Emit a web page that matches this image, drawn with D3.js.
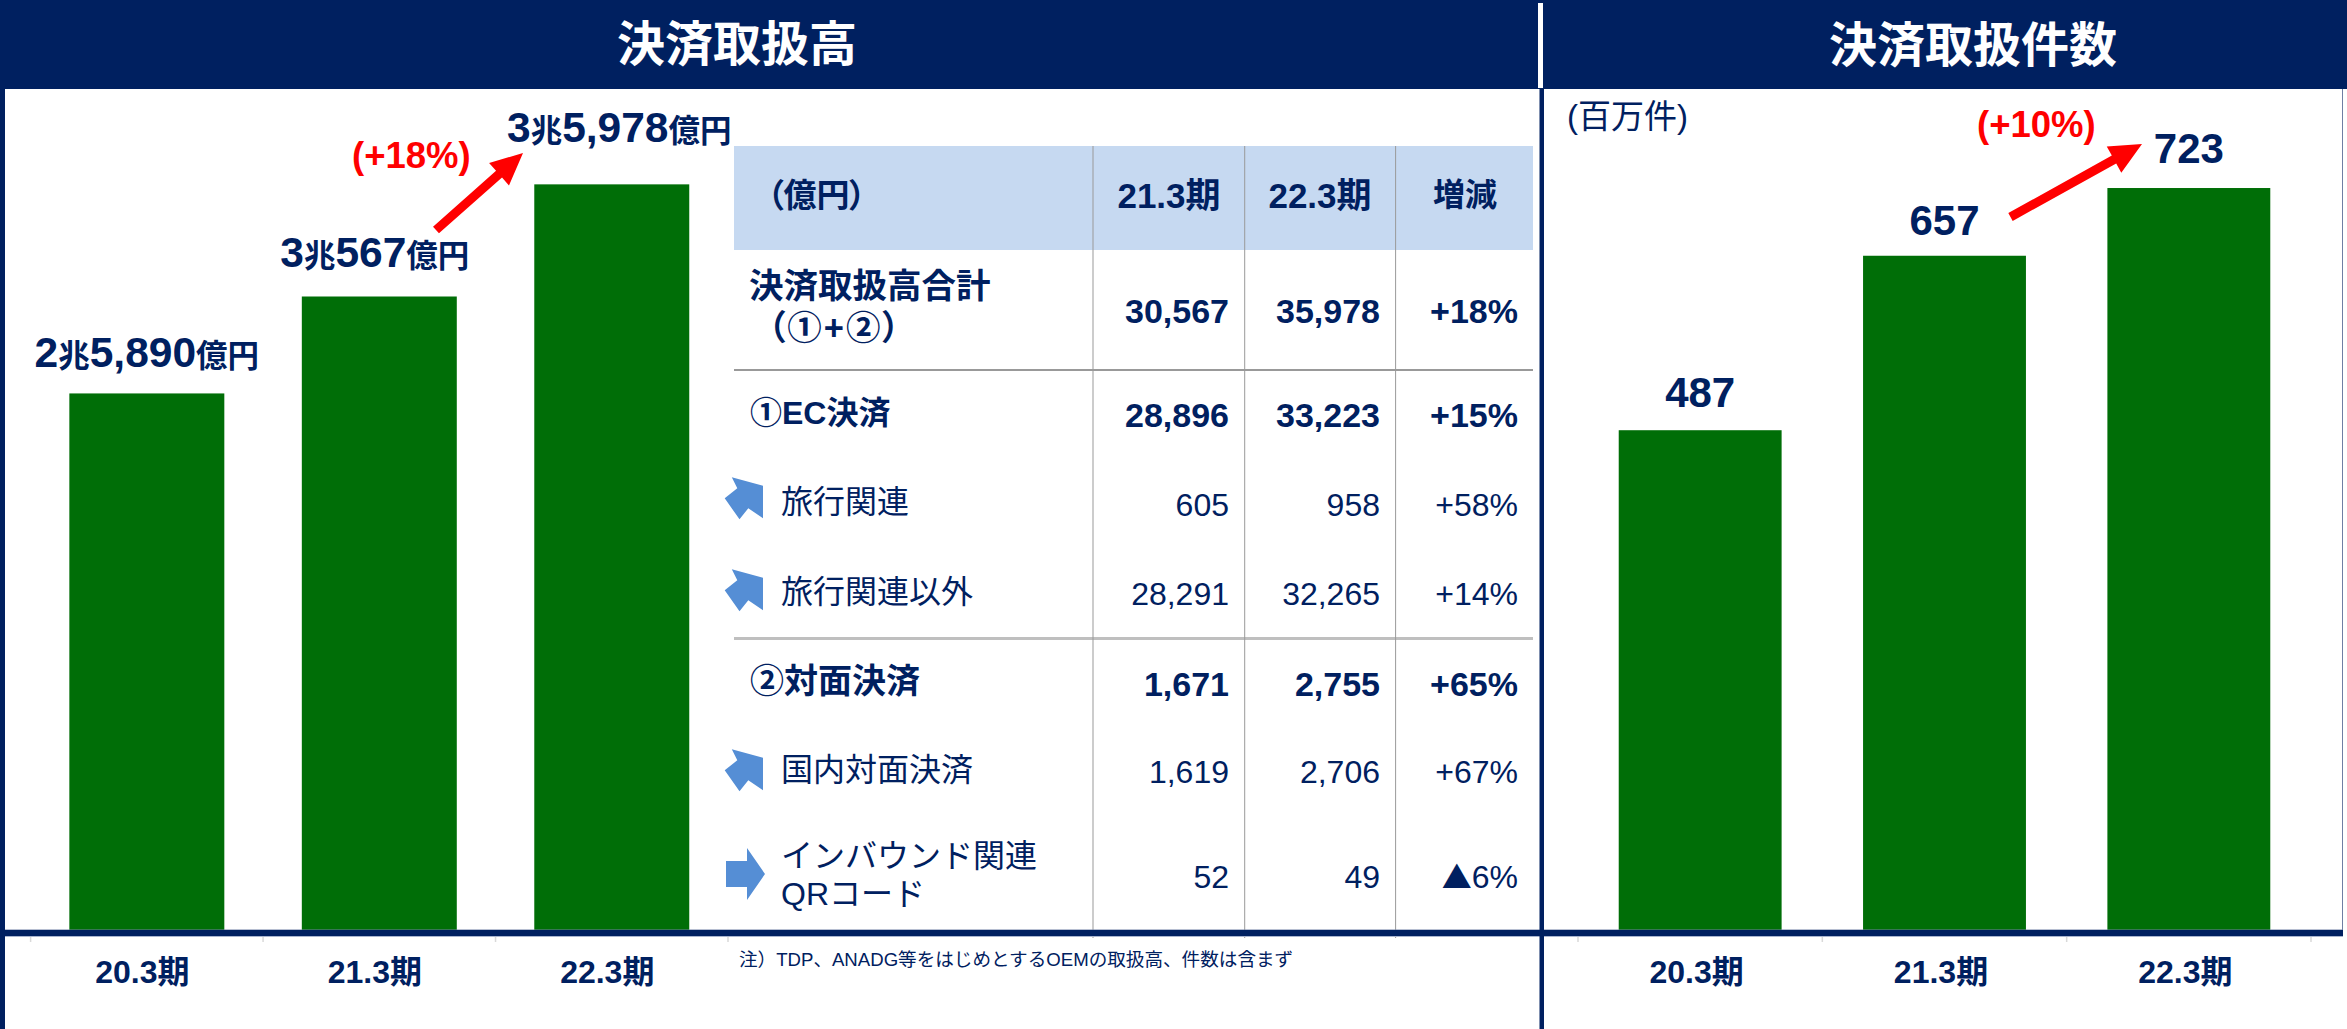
<!DOCTYPE html>
<html lang="ja"><head><meta charset="utf-8">
<script src="https://cdnjs.cloudflare.com/ajax/libs/d3/7.8.5/d3.min.js"></script>
<style>
html,body{margin:0;padding:0;background:#fff;overflow:hidden}
svg{display:block}
text{font-family:"Liberation Sans","Noto Sans CJK JP",sans-serif;fill:#002060}
.palt{font-feature-settings:"palt"}
</style></head><body>
<svg id="c" width="2347" height="1029"></svg>
<script>
// ---- data ----
const categories = ["20.3期","21.3期","22.3期"];
const amountValues = [25890,30567,35978];   // 億円
const countValues = [487,657,723];          // 百万件
const amountGrowth = "(+18%)";
const countGrowth = "(+10%)";
const tableHeader = ["（億円）","21.3期","22.3期","増減"];
const rowLabels = [["決済取扱高合計","（①+②）"],["①EC決済"],["旅行関連"],["旅行関連以外"],["②対面決済"],["国内対面決済"],["インバウンド関連","QRコード"]];
const fy21 = [30567,28896,605,28291,1671,1619,52];
const fy22 = [35978,33223,958,32265,2755,2706,49];
const changes = ["+18%","+15%","+58%","+14%","+65%","+67%","▲6%"];
const boldRows = [true,true,false,false,true,false,false];
const footnote = "注）TDP、ANADG等をはじめとするOEMの取扱高、件数は含まず";

// ---- layout ----
const NAVY="#002060",GREEN="#006e07",RED="#ff0000",BLUE="#558ed5",HEAD="#c6d9f1",GRID="#999999";
const BASE=930;
const svg=d3.select("#c");
const rect=(x,y,w,h,f)=>svg.append("rect").attr("x",x).attr("y",y).attr("width",w).attr("height",h).attr("fill",f);

rect(0,0,2347,89,NAVY);
rect(2342,89,1,841,"#6f7fa3");
rect(1538,3,5,85,"#fff");

svg.append("text").attr("x",737).attr("y",61).attr("text-anchor","middle").attr("font-size",48).attr("font-weight",700).style("fill","#fff").text("決済取扱高");
svg.append("text").attr("x",1973).attr("y",62).attr("text-anchor","middle").attr("font-size",48).attr("font-weight",700).style("fill","#fff").text("決済取扱件数");

// scales
const xL=d3.scaleBand().domain(categories).range([30.6,728]).paddingInner(1/3).paddingOuter(1/6);
const yL=d3.scaleLinear().domain([0,40000]).range([BASE,101]);
const xR=d3.scaleBand().domain(categories).range([1578,2311]).paddingInner(1/3).paddingOuter(1/6);
const yR=d3.scaleLinear().domain([0,800]).range([BASE,109]);

function bars(x,y,vals){
  svg.append("g").selectAll("rect").data(vals).join("rect")
    .attr("x",(d,i)=>x(categories[i])).attr("width",x.bandwidth())
    .attr("y",d=>y(d)).attr("height",d=>BASE-y(d)).attr("fill",GREEN);
}
bars(xL,yL,amountValues);
bars(xR,yR,countValues);

// table background and rules
const colX=[734,1093,1244.7,1395.6,1533];
rect(734,146,799,104,HEAD);
rect(734,369,799,2,GRID);
rect(734,637,799,3,"#bfbfbf");
colX.slice(1,4).forEach(x=>rect(x-0.5,146,1,792,GRID));

// baseline + axes
function axis(x,shift){
  const ax=d3.axisBottom(x).tickSize(0).tickPadding(0);
  const g=svg.append("g").attr("transform",`translate(${shift},${BASE+6})`).call(ax);
  g.select(".domain").remove();
  g.selectAll("text").attr("y",47).attr("dy",0).attr("font-size",32).attr("font-weight",700)
    .style("font-family",'"Liberation Sans","Noto Sans CJK JP",sans-serif').style("fill",NAVY);
  const edges=[...categories.map(c=>x(c)-x.step()/6),x.range()[1]];
  svg.append("g").selectAll("line").data(edges).join("line")
    .attr("x1",d=>d).attr("x2",d=>d).attr("y1",BASE+6).attr("y2",BASE+12)
    .attr("stroke","#d9d9d9").attr("stroke-width",1.5);
}
axis(xL,-4.5);axis(xR,-3.5);
rect(5,BASE-0.5,2338,1,"#6f7fa3");
rect(5,BASE,2338,6,NAVY);
rect(5,BASE+6,2338,1,"#a9b5cf");
rect(0,0,5,1029,NAVY);
rect(1539.5,89,4.5,940,NAVY);

// value labels, left
const amountParts=v=>{const c=Math.floor(v/10000),r=v%10000;return [c,"兆",d3.format(",")(r),"億円"];};
const leftDx=[0,-4.5,7.5], leftGap=[26,29,42];
amountValues.forEach((v,i)=>{
  const t=svg.append("text").attr("text-anchor","middle")
    .attr("x",xL(categories[i])+xL.bandwidth()/2+leftDx[i]).attr("y",yL(v)-leftGap[i]).attr("font-weight",700);
  amountParts(v).forEach((p,k)=>t.append("tspan").attr("font-size",k%2?31.5:42.5).text(p));
});
// value labels, right
const rightGap=[23,21,25];
svg.append("g").selectAll("text").data(countValues).join("text")
  .attr("text-anchor","middle").attr("font-weight",700).attr("font-size",42)
  .attr("x",(d,i)=>xR(categories[i])+xR.bandwidth()/2).attr("y",(d,i)=>yR(d)-rightGap[i]).text(d=>d);

svg.append("text").attr("x",1567).attr("y",128).attr("font-size",33).text("(百万件)");

// growth labels + arrows
const growth=(x,y,s)=>svg.append("text").attr("x",x).attr("y",y).attr("font-size",36.5).attr("font-weight",700).style("fill",RED).text(s);
growth(352,168,amountGrowth);
growth(1977,137,countGrowth);
function arrow(x1,y1,x2,y2){
  const a=Math.atan2(y2-y1,x2-x1),L=32,W=15,s=4.5;
  const ux=Math.cos(a),uy=Math.sin(a),nx=-uy,ny=ux;
  const bx=x2-ux*L,by=y2-uy*L;
  const p=[[x1+nx*s,y1+ny*s],[bx+nx*s,by+ny*s],[bx+nx*W,by+ny*W],[x2,y2],[bx-nx*W,by-ny*W],[bx-nx*s,by-ny*s],[x1-nx*s,y1-ny*s]];
  svg.append("path").attr("d",d3.line()(p)+"Z").attr("fill",RED);
}
arrow(436,230,523,153);
arrow(2010.5,217,2142,144);

// table header
const headStyle=(t,fs)=>t.attr("font-weight",700).attr("font-size",fs);
headStyle(svg.append("text").attr("class","palt").attr("x",767).attr("y",207),33).text(tableHeader[0]);
headStyle(svg.append("text").attr("x",1169).attr("y",208).attr("text-anchor","middle"),35).text(tableHeader[1]);
headStyle(svg.append("text").attr("x",1320).attr("y",208).attr("text-anchor","middle"),35).text(tableHeader[2]);
headStyle(svg.append("text").attr("x",1465).attr("y",206).attr("text-anchor","middle"),32).text(tableHeader[3]);

// table rows
const numBase=[323,427,516,605,696,783,888];
const labelBase=[[298,340],[424],[513],[603],[693],[781],[867,905]];
const labelX=[[749,768],[750],[781],[781],[750],[781],[781,781]];
const labelSize=[34.5,32,32,32,34,32,32];
const fmt=d3.format(",");
rowLabels.forEach((lines,i)=>{
  lines.forEach((s,k)=>svg.append("text").attr("class",/（/.test(s)?"palt":null).attr("x",labelX[i][k]).attr("y",labelBase[i][k])
    .attr("letter-spacing",/（/.test(s)?2:0)
    .attr("font-size",labelSize[i]).attr("font-weight",boldRows[i]?700:400).text(s));
  [[1229,fmt(fy21[i])],[1380,fmt(fy22[i])],[1518,changes[i]]].forEach(([x,s])=>{
    const t=svg.append("text").attr("x",x).attr("y",numBase[i]).attr("text-anchor","end")
      .attr("font-size",boldRows[i]?34:32).attr("font-weight",boldRows[i]?700:400);
    if(s[0]==="▲"){
      t.append("tspan").style("font-family",'"Noto Sans CJK JP"').attr("font-size",30).attr("dx",0).text("▲");
      t.append("tspan").text(s.slice(1));
    } else t.text(s);
  });
});

// bullet arrows
const diag=[[731.8,477.3],[763,485.7],[763,518.3],[748.3,508.3],[739.5,519.3],[724.7,498.3],[737.3,488.3]];
[0,92,272].forEach(dy=>svg.append("path").attr("d",d3.line()(diag.map(([x,y])=>[x,y+dy]))+"Z").attr("fill",BLUE));
svg.append("path").attr("d",d3.line()([[726,861],[747,861],[747,848],[765,874],[747,900],[747,887],[726,887]])+"Z").attr("fill",BLUE);

svg.append("text").attr("x",739).attr("y",966).attr("font-size",18.6).text(footnote);
</script>
</body></html>
